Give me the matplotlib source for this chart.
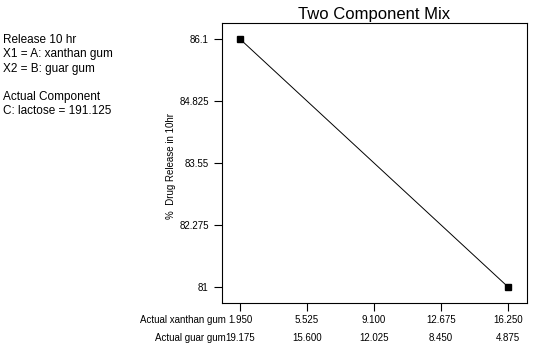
import matplotlib.pyplot as plt
import matplotlib.transforms as mtransforms

plt.rcParams['font.family'] = ['Liberation Sans', 'DejaVu Sans']

xanthan = [1.950, 16.250]
release = [86.1, 81.0]

xticks = [1.950, 5.525, 9.100, 12.675, 16.250]
xlab1 = ['1.950', '5.525', '9.100', '12.675', '16.250']
xlab2 = ['19.175', '15.600', '12.025', '8.450', '4.875']
yticks = [81, 82.275, 83.55, 84.825, 86.1]
ylabs = ['81', '82.275', '83.55', '84.825', '86.1']

fig = plt.figure(figsize=(5.48, 3.57), dpi=100)
ax = fig.add_axes([222 / 548, 1 - 303 / 357, 305 / 548, 280 / 357])

ax.plot(xanthan, release, color='black', lw=0.7)
ax.plot(xanthan, release, 's', color='black', ms=5)

ax.set_xlim(0.99, 17.26)
ax.set_ylim(80.67, 86.43)
ax.set_yticks(yticks)
ax.set_yticklabels(ylabs, fontsize=7)
ax.set_xticks(xticks)
ax.set_xticklabels([])
ax.tick_params(direction='out', length=6, width=0.8, color='black')
for s in ax.spines.values():
    s.set_linewidth(0.8)

ax.set_title('Two Component Mix', fontsize=12, pad=3)
ax.set_ylabel('%  Drug Release in 10hr', fontsize=7)
ax.yaxis.set_label_coords(-0.151, 0.49)

tr = mtransforms.blended_transform_factory(ax.transData, fig.transFigure)
y1 = 1 - 320 / 357
y2 = 1 - 338 / 357
for x, a, b in zip(xticks, xlab1, xlab2):
    ax.text(x, y1, a, transform=tr, fontsize=7, ha='center', va='center')
    ax.text(x, y2, b, transform=tr, fontsize=7, ha='center', va='center')
fig.text(226 / 548, y1, 'Actual xanthan gum', fontsize=7, ha='right', va='center')
fig.text(226 / 548, y2, 'Actual guar gum', fontsize=7, ha='right', va='center')

info = ['Release 10 hr', 'X1 = A: xanthan gum', 'X2 = B: guar gum', '',
        'Actual Component', 'C: lactose = 191.125']
for i, t in enumerate(info):
    fig.text(3 / 548, 1 - (40 + i * 14.3) / 357, t, fontsize=8.5, ha='left', va='center')

fig.savefig('out.png', dpi=100)
